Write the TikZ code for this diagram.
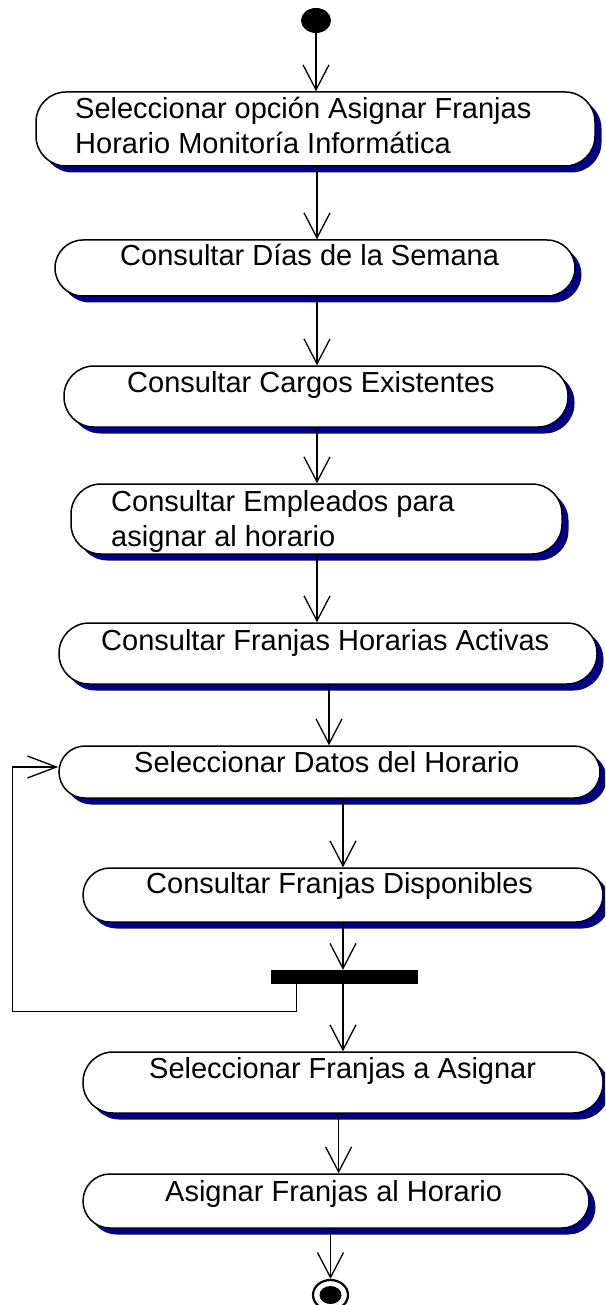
\documentclass[tikz,border=0pt]{standalone}
\usepackage{fontspec}
\setmainfont{Liberation Sans}
\usetikzlibrary{arrows.meta,shadows,shapes.geometric}
\definecolor{shadownavy}{RGB}{0,0,128}
\tikzset{
  act/.style={draw=black, line width=1.5pt, fill=white, rectangle, inner sep=0pt,
    drop shadow={shadow xshift=6.5pt, shadow yshift=-6.5pt, fill=shadownavy, opacity=1}},
  lbl/.style={anchor=base west, inner sep=0pt, font=\fontsize{29}{35}\selectfont},
  flow/.style={line width=1.3pt, line join=round,
    -{Straight Barb[length=25pt,width=26pt,line width=1.3pt]}},
  loopflow/.style={line width=1.4pt, line join=miter,
    -{Straight Barb[length=29pt,width=22pt,line width=1.3pt]}},
}
\begin{document}
\begin{tikzpicture}[x=1pt,y=-1pt]
\fill[white] (0,0) rectangle (605,1305);
\useasboundingbox (0,0) rectangle (605,1305);
\clip (0,0) rectangle (605,1305);

% columns for vertical connectors
\coordinate (c2) at (317,0);
\coordinate (c3) at (329,0);
\coordinate (c4) at (343,0);
\coordinate (c5) at (338.6,0);
\coordinate (loopx) at (296.5,0);
\coordinate (loopl) at (12.7,1011.7);

% activity boxes
\node[act, rounded corners=30pt, minimum width=559pt, minimum height=74pt] (b1) at (315.5,129) {};
\node[act, rounded corners=28pt, minimum width=520pt, minimum height=56pt] (b2) at (315,268) {};
\node[act, rounded corners=30pt, minimum width=504pt, minimum height=61pt] (b3) at (316,396.5) {};
\node[act, rounded corners=30pt, minimum width=491pt, minimum height=70pt] (b4) at (316.5,519) {};
\node[act, rounded corners=30pt, minimum width=538pt, minimum height=61pt] (b5) at (328,653.5) {};
\node[act, rounded corners=26pt, minimum width=541pt, minimum height=52pt] (b6) at (329.5,772) {};
\node[act, rounded corners=27pt, minimum width=520pt, minimum height=54pt] (b7) at (343,895) {};
\node[act, rounded corners=30pt, minimum width=520pt, minimum height=61pt] (b8) at (343,1082.5) {};
\node[act, rounded corners=27pt, minimum width=506pt, minimum height=54pt] (b9) at (336,1201) {};

% texts
\node[lbl] (t1) at (75,119) {\begin{tabular}[t]{@{}l@{}}Seleccionar opción Asignar Franjas\\Horario Monitoría Informática\end{tabular}};
\node[lbl] (t2) at (120,266) {Consultar Días de la Semana};
\node[lbl] (t3) at (127,392) {Consultar Cargos Existentes};
\node[lbl] (t4) at (111,511) {\begin{tabular}[t]{@{}l@{}}Consultar Empleados para\\asignar al horario\end{tabular}};
\node[lbl] (t5) at (101,650) {Consultar Franjas Horarias Activas};
\node[lbl] (t6) at (134,772) {Seleccionar Datos del Horario};
\node[lbl] (t7) at (146,893) {Consultar Franjas Disponibles};
\node[lbl] (t8) at (149,1078) {Seleccionar Franjas a Asignar};
\node[lbl] (t9) at (165,1201) {Asignar Franjas al Horario};

% start, bar, end
\node[ellipse, fill=black, minimum width=30pt, minimum height=25pt, inner sep=0pt] (start) at (316,20.5) {};
\node[rectangle, fill=black, minimum width=147pt, minimum height=14pt, inner sep=0pt] (bar) at (344.5,977) {};
\node[ellipse, draw=black, line width=2.2pt, fill=white, minimum width=35pt, minimum height=30pt, inner sep=0pt] (end) at (330.5,1295) {};
\node[ellipse, fill=black, minimum width=22pt, minimum height=18pt, inner sep=0pt] (endc) at (end.center) {};

% connectors
\draw[flow] (start.south) -- (b1.north -| start.south);
\draw[flow] (b1.south -| c2) -- (b2.north -| c2);
\draw[flow] (b2.south -| c2) -- (b3.north -| c2);
\draw[flow] (b3.south -| c2) -- (b4.north -| c2);
\draw[flow] (b4.south -| c2) -- (b5.north -| c2);
\draw[flow] (b5.south -| c3) -- (b6.north -| c3);
\draw[flow] (b6.south -| c4) -- (b7.north -| c4);
\draw[flow] (b7.south -| c4) -- (bar.north -| c4);
\draw[flow] (bar.south -| c4) -- (b8.north -| c4);
\draw[flow] (b8.south -| c5) -- (b9.north -| c5);
\draw[flow] (b9.south -| end) -- (end.north);
\draw[loopflow] (bar.south -| loopx) |- (loopl) |- ([yshift=5pt]b6.west);
\end{tikzpicture}
\end{document}
